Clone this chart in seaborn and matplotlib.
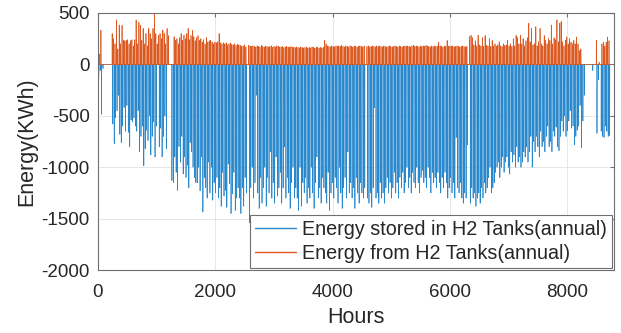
import numpy as np
import pandas as pd
import seaborn as sns
import matplotlib
matplotlib.use("Agg")
import matplotlib.pyplot as plt

# Daily peak values (kWh), one per day of the year
stored_daily = [
    -120, -60, -485, -40, 0, 0, 0, 0, 0, 0,
    -580, -770, -520, -450, -300, -680, -760, -600, -420, -650,
    -400, -660, -800, -540, -560, -520, -600, -650, -450, -850,
    -700, -600, -985, -820, -640, -740, -500, -880, -700, -560,
    -900, -600, 0, -800, -620, -900, -700, -500, -820, 0,
    0, 0, -1130, -1150, -900, -1050, -1225, -800, -950, -700,
    -1065, -900, -1100, -980, -1200, -760, -850, -1000, -1100, -1150,
    -1150, -1000, -1230, -900, -1435, -1100, -1200, -1300, -950, -1250,
    -1000, -1320, -1150, -1250, -1100, -1300, -1200, -1380, -1050, -1280,
    -1225, -1390, -970, -1160, -1450, -1260, -1050, -1420, -1300, -1200,
    -1300, -1450, -1200, -1380, -1100, -1250, 0, -1540, -1200, -1000,
    -1300, -1150, -300, -1250, -1400, -1100, -1350, -1200, -1000, -1380,
    -1100, -1250, -850, -1300, -1150, -1350, -900, -1280, -1200, -1050,
    -1350, -1200, -800, -1300, -1100, -1250, -1400, -1150, -1000, -1300,
    -1200, -1300, -1420, -1000, -1380, -1150, -1250, -1100, -1350, -1200,
    -1300, -1000, -1250, -1400, -1150, -900, -1300, -1200, -1350, -1100,
    -1200, -1250, -1350, -1050, -1420, -1250, -1150, -1300, -1100, -1200,
    -1350, -1000, -1250, -1400, -1200, -1100, -1300, -850, -1250, -1150,
    -1300, -1200, -1400, -1100, -1250, -1350, -1150, -1250, -1300, -1200,
    0, -1300, -1350, -1250, -1390, -1200, -420, -1300, -1250, -1350,
    -1150, -1300, -1250, -1350, -1200, -1100, -1250, -1150, -1300, -1200,
    -1050, -1250, -1150, -1300, -1100, -1200, -1050, -1250, -1150, -1000,
    -1200, -1100, -1250, -1050, -1150, -1200, -1000, -1150, -1250, -1100,
    -1030, -1150, -1100, -1200, -1000, -1100, -1250, -1050, -1150, -1100,
    -1200, -1050, -1150, -1250, -1100, -1200, -1050, -1150, -1300, -1200,
    -1100, -1250, -1150, -1300, -710, -1200, -1250, -1150, -1300, -1350,
    -1250, -1300, -780, 0, -1350, -1200, -1300, -1250, -1380, -1300,
    -1250, -1350, -1200, -1300, -1150, -1250, -1200, -1100, -1000, -1250,
    -1200, -1150, -1050, -1000, -950, -1100, -1000, -900, -1050, -950,
    -900, -1000, -1065, -850, -950, -880, -1000, -800, -950, -900,
    -1000, -950, -850, -900, -800, -950, -850, -700, -1000, -750,
    -850, -700, -800, -900, -650, -800, -750, -850, -700, -600,
    -800, -750, -850, -650, -700, -610, -800, -840, -700, -550,
    -650, -500, -700, -645, -550, -450, -620, -600, -780, -700,
    -640, -600, -400, -810, -550, -300, 0, 0, 0, 0,
    0, -60, 0, 0, -670, -150, 0, -650, -700, -710,
    -600, -650, -700, -690, 0,
]

from_daily = [
    233, 100, 333, 0, 0, 0, 0, 0, 0, 0,
    300, 250, 200, 433, 150, 383, 200, 380, 233, 230,
    233, 240, 200, 230, 240, 180, 240, 433, 200, 410,
    380, 233, 350, 200, 300, 180, 350, 300, 250, 350,
    507, 300, 200, 283, 300, 250, 333, 300, 200, 350,
    280, 0, 0, 0, 270, 233, 250, 200, 260, 300,
    233, 283, 250, 300, 350, 240, 280, 330, 270, 230,
    260, 280, 233, 250, 217, 240, 200, 260, 220, 230,
    233, 217, 200, 217, 210, 220, 300, 210, 200, 210,
    200, 210, 190, 200, 210, 195, 190, 200, 185, 195,
    190, 185, 175, 180, 190, 170, 0, 185, 180, 175,
    180, 175, 170, 180, 175, 170, 185, 175, 170, 180,
    175, 170, 175, 180, 165, 175, 170, 180, 175, 170,
    170, 175, 165, 170, 175, 170, 165, 175, 170, 165,
    165, 170, 165, 160, 170, 165, 160, 165, 170, 160,
    165, 160, 170, 165, 160, 165, 170, 160, 165, 160,
    165, 233, 200, 180, 175, 170, 180, 175, 170, 180,
    175, 180, 175, 185, 175, 170, 180, 175, 170, 180,
    175, 170, 180, 175, 170, 175, 180, 175, 170, 180,
    0, 175, 180, 170, 175, 180, 175, 170, 180, 175,
    180, 175, 170, 180, 175, 170, 175, 180, 175, 170,
    175, 180, 175, 170, 180, 175, 170, 175, 180, 175,
    180, 175, 170, 180, 185, 175, 180, 175, 170, 180,
    175, 180, 175, 185, 180, 175, 170, 180, 175, 180,
    175, 180, 215, 180, 175, 170, 180, 175, 233, 175,
    180, 175, 180, 170, 175, 180, 175, 170, 175, 180,
    175, 170, 175, 0, 270, 283, 260, 190, 230, 180,
    283, 190, 180, 260, 175, 280, 185, 180, 250, 175,
    233, 180, 200, 175, 190, 220, 180, 175, 200, 185,
    190, 233, 180, 200, 175, 250, 180, 283, 260, 200,
    283, 200, 250, 180, 230, 260, 400, 220, 350, 190,
    200, 367, 180, 220, 350, 200, 180, 280, 233, 200,
    250, 233, 383, 200, 260, 240, 433, 220, 400, 417,
    220, 180, 233, 267, 200, 250, 217, 200, 233, 200,
    267, 200, 133, 150, 0, 0, 0, 0, 0, 0,
    0, 0, 0, 0, 233, 0, 20, 0, 200, 217,
    180, 217, 267, 230, 0,
]

x_ticks = [0, 2000, 4000, 6000, 8000]
y_ticks = [-2000, -1500, -1000, -500, 0, 500]
series_labels = ["Energy stored in H2 Tanks(annual)", "Energy from H2 Tanks(annual)"]
x_label = "Hours"
y_label = "Energy(KWh)"

assert len(stored_daily) == 365 and len(from_daily) == 365

# hourly series: storing happens around midday, discharging at night
hours = np.arange(8760)
days = np.arange(365)
stored_h = np.zeros(8760)
stored_h[days * 24 + 13] = stored_daily
from_h = np.zeros(8760)
from_h[days * 24 + 2] = from_daily
df = pd.DataFrame({"Hours": hours, "stored": stored_h, "from": from_h})

sns.set_style("white")
plt.rcParams["font.family"] = ["Liberation Sans", "DejaVu Sans"]
plt.rcParams["axes.unicode_minus"] = False

fig = plt.figure(figsize=(6.21, 3.33), dpi=100)
ax = fig.add_axes([0.1578, 0.189, 0.831, 0.772])

blue = "#2a88cc"
orange = "#dc5a22"
sns.lineplot(data=df, x="Hours", y="stored", ax=ax, color=blue, lw=0.5,
             estimator=None, label=series_labels[0])
sns.lineplot(data=df, x="Hours", y="from", ax=ax, color=orange, lw=0.5,
             estimator=None, label=series_labels[1])

ax.set_xlim(0, 8800)
ax.set_ylim(-2000, 500)
ax.set_xticks(x_ticks)
ax.set_yticks(y_ticks)
ax.grid(True, color="#e3e3e3", lw=0.6)
ax.set_axisbelow(True)
axis_col = "#6f6f6f"
for s in ax.spines.values():
    s.set_color(axis_col)
    s.set_linewidth(0.8)
ax.tick_params(axis="both", direction="in", length=3, color=axis_col,
               labelsize=13.5, labelcolor="#262626", top=True, right=True)
ax.tick_params(axis="y", pad=6)
ax.tick_params(axis="x", pad=10)
ax.set_xlabel(x_label, fontsize=15.5, color="#262626", labelpad=4)
ax.set_ylabel(y_label, fontsize=15.5, color="#262626", labelpad=3)

leg = ax.legend(loc="lower right", fontsize=14.2, frameon=True, fancybox=False,
                borderaxespad=0.1, handlelength=2.1, handletextpad=0.3,
                labelspacing=0.25, borderpad=0.25, framealpha=1)
leg.get_frame().set_edgecolor(axis_col)
leg.get_frame().set_linewidth(0.8)
for line in leg.get_lines():
    line.set_linewidth(1.0)

fig.savefig("out.png", dpi=100)
